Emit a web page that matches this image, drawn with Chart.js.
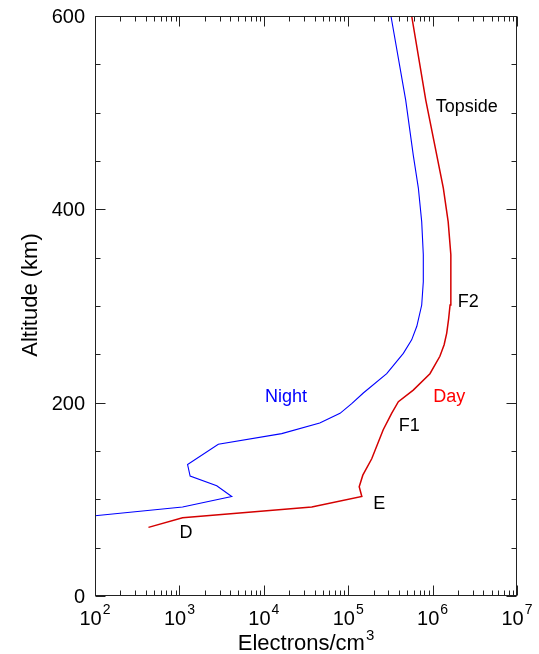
<!DOCTYPE html>
<html>
<head>
<meta charset="utf-8">
<script src="https://cdn.jsdelivr.net/npm/chart.js@4.4.1/dist/chart.umd.min.js"></script>
<style>
html,body{margin:0;padding:0;background:#fff;}
canvas{display:block;}
</style>
</head>
<body>
<canvas id="c" width="539" height="654"></canvas>
<script>
// ---- data ----
const dayAltitude = [71, 81, 92, 103, 113, 125, 142, 172, 189, 201, 213, 230, 248, 260, 272, 287, 301, 325, 353, 387, 422, 456, 513, 600];
const dayDensity  = [4.3e2, 1.09e3, 3.7e4, 1.45e5, 1.35e5, 1.49e5, 1.9e5, 2.6e5, 3.27e5, 3.93e5, 5.9e5, 9.3e5, 1.22e6, 1.37e6, 1.47e6, 1.55e6, 1.61e6, 1.65e6, 1.64e6, 1.53e6, 1.34e6, 1.12e6, 8.3e5, 5.65e5];
const nightAltitude = [83, 92, 103, 114, 124, 136, 157, 168, 179, 189, 199, 210, 230, 251, 265, 279, 301, 325, 353, 387, 422, 456, 513, 600];
const nightDensity  = [1.0e2, 1.09e3, 4.17e3, 2.77e3, 1.34e3, 1.25e3, 2.89e3, 1.63e4, 4.6e4, 8.0e4, 1.1e5, 1.51e5, 2.86e5, 4.5e5, 5.65e5, 6.5e5, 7.43e5, 7.76e5, 7.76e5, 7.43e5, 6.78e5, 5.9e5, 4.8e5, 3.21e5];

const yTickValues = [0, 200, 400, 600];
const xTickExponents = [2, 3, 4, 5, 6, 7];

const regionLabels = ["Topside", "F2", "Day", "Night", "F1", "E", "D"];
const regionLabelDensity = [2.54e6, 2.65e6, 1.58e6, 1.83e4, 5.3e5, 2.33e5, 1.2e3];
const regionLabelAltitude = [507, 306, 207, 207, 177, 96.5, 66.5];
const regionLabelColor = ["#000", "#000", "#ff0000", "#0000ff", "#000", "#000", "#000"];

const xTitle = "Electrons/cm";
const xTitleSup = "3";
const yTitle = "Altitude (km)";

const FONT = '"Liberation Sans", Arial, Helvetica, sans-serif';

function pts(xs, ys){ return xs.map((x,i)=>({x:x, y:ys[i]})); }

const framePlugin = {
  id: 'frame',
  afterDatasetsDraw(chart){
    const ctx = chart.ctx;
    const a = chart.chartArea;
    const xs = chart.scales.x, ys = chart.scales.y;
    ctx.save();
    ctx.strokeStyle = '#222';
    ctx.lineWidth = 1;
    const L = Math.round(a.left)+0.5, R = Math.round(a.right)-0.5, T = Math.round(a.top)+0.5, B = Math.round(a.bottom)-0.5;
    ctx.strokeRect(L, T, R-L, B-T);
    ctx.beginPath();
    // y ticks
    for (let v = 0; v <= 600; v += 50) {
      const len = (v % 200 === 0) ? 10 : 5;
      const py = Math.round(ys.getPixelForValue(v)) + 0.5;
      ctx.moveTo(L, py); ctx.lineTo(L+len, py);
      ctx.moveTo(R, py); ctx.lineTo(R-len, py);
    }
    // x ticks
    for (let e = 2; e <= 7; e++) {
      for (let k = 1; k <= 9; k++) {
        if (e === 7 && k > 1) break;
        const val = k * Math.pow(10, e);
        const len = (k === 1) ? 10 : 5;
        const px = Math.round(xs.getPixelForValue(val)) + 0.5;
        ctx.moveTo(px, B); ctx.lineTo(px, B-len);
        ctx.moveTo(px, T); ctx.lineTo(px, T+len);
      }
    }
    ctx.stroke();

    ctx.fillStyle = '#000';
    // y tick labels
    ctx.font = '20px ' + FONT;
    ctx.textAlign = 'right';
    ctx.textBaseline = 'alphabetic';
    yTickValues.forEach(v => {
      const py = ys.getPixelForValue(v);
      ctx.fillText(String(v), a.left - 10, py + 7);
    });
    // x tick labels with superscript
    xTickExponents.forEach(e => {
      const px = xs.getPixelForValue(Math.pow(10, e));
      ctx.font = '20px ' + FONT;
      const w1 = ctx.measureText('10').width;
      ctx.font = '14px ' + FONT;
      const w2 = ctx.measureText(String(e)).width;
      const x0 = px - (w1 + w2 + 1) / 2;
      ctx.textAlign = 'left';
      ctx.font = '20px ' + FONT;
      ctx.fillText('10', x0, 624.5);
      ctx.font = '14px ' + FONT;
      ctx.fillText(String(e), x0 + w1 + 1, 614);
    });
    // x title
    ctx.font = '22px ' + FONT;
    const tw = ctx.measureText(xTitle).width;
    ctx.font = '15px ' + FONT;
    const sw = ctx.measureText(xTitleSup).width;
    const cx = (a.left + a.right) / 2;
    const tx0 = cx - (tw + sw + 1) / 2;
    ctx.font = '22px ' + FONT;
    ctx.fillText(xTitle, tx0, 650);
    ctx.font = '15px ' + FONT;
    ctx.fillText(xTitleSup, tx0 + tw + 1, 640);
    // y title
    ctx.save();
    ctx.translate(37, 295);
    ctx.rotate(-Math.PI/2);
    ctx.font = '22px ' + FONT;
    ctx.textAlign = 'center';
    ctx.fillText(yTitle, 0, 0);
    ctx.restore();
    // region labels
    ctx.font = '18px ' + FONT;
    ctx.textAlign = 'center';
    regionLabels.forEach((t, i) => {
      ctx.fillStyle = regionLabelColor[i];
      const px = xs.getPixelForValue(regionLabelDensity[i]);
      const py = ys.getPixelForValue(regionLabelAltitude[i]);
      ctx.fillText(t, px, py + 6.5);
    });
    ctx.restore();
  }
};

new Chart(document.getElementById('c'), {
  type: 'line',
  data: {
    datasets: [
      { label: 'Night', data: pts(nightDensity, nightAltitude), borderColor: '#0000ff', borderWidth: 1.1, pointRadius: 0, tension: 0, fill: false },
      { label: 'Day', data: pts(dayDensity, dayAltitude), borderColor: '#d40000', borderWidth: 1.5, pointRadius: 0, tension: 0, fill: false }
    ]
  },
  options: {
    responsive: false,
    animation: false,
    events: [],
    layout: { padding: { left: 95, top: 16, right: 22, bottom: 58 } },
    plugins: { legend: { display: false }, tooltip: { enabled: false } },
    scales: {
      x: { type: 'logarithmic', min: 100, max: 1e7, display: false },
      y: { type: 'linear', min: 0, max: 600, display: false }
    }
  },
  plugins: [framePlugin]
});
</script>
</body>
</html>
